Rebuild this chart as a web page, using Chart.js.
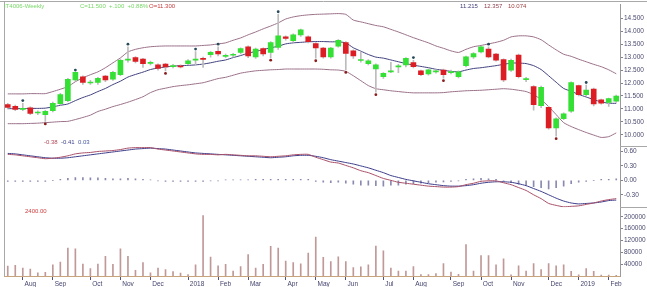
<!DOCTYPE html>
<html lang="en">
<head>
<meta charset="UTF-8">
<title>Weekly chart</title>
<script src="https://cdn.jsdelivr.net/npm/chart.js@4.4.1/dist/chart.umd.min.js"></script>
<style>
  html, body { margin: 0; padding: 0; background: #fff; }
  #wrap { position: relative; width: 647px; height: 287px; font-family: "Liberation Sans", Arial, sans-serif; }
  #wrap span { position: absolute; font-size: 6px; white-space: pre; line-height: 1; }
</style>
</head>
<body>
<div id="wrap">
  <canvas id="chart" width="647" height="287"></canvas>
  <span style="left:4px;top:3px;color:#78d868">IT4006-Weekly</span>
  <span style="left:80px;top:3px;color:#78d868">C=11.500  +.100  +0.88%</span>
  <span style="left:149px;top:3px;color:#c84040">O=11.300</span>
  <span style="left:460px;top:3px;color:#404078">11.215</span>
  <span style="left:484px;top:3px;color:#904050">12.357</span>
  <span style="left:508px;top:3px;color:#a04040">10.074</span>
  <span style="left:44px;top:139px;color:#b04858">-0.38</span>
  <span style="left:61px;top:139px;color:#404090">-0.41</span>
  <span style="left:78px;top:139px;color:#4858a0">0.03</span>
  <span style="left:25px;top:208px;color:#d04040">2400.00</span>
</div>
<script>
// weekly bars, Friday closes
var weeks = ['2017-07-21','2017-07-28','2017-08-04','2017-08-11','2017-08-18','2017-08-25','2017-09-01','2017-09-08','2017-09-15','2017-09-22',
  '2017-09-29','2017-10-06','2017-10-13','2017-10-20','2017-10-27','2017-11-03','2017-11-10','2017-11-17','2017-11-24','2017-12-01',
  '2017-12-08','2017-12-15','2017-12-22','2017-12-29','2018-01-05','2018-01-12','2018-01-19','2018-01-26','2018-02-02','2018-02-09',
  '2018-02-16','2018-02-23','2018-03-02','2018-03-09','2018-03-16','2018-03-23','2018-03-30','2018-04-06','2018-04-13','2018-04-20',
  '2018-04-27','2018-05-04','2018-05-11','2018-05-18','2018-05-25','2018-06-01','2018-06-08','2018-06-15','2018-06-22','2018-06-29',
  '2018-07-06','2018-07-13','2018-07-20','2018-07-27','2018-08-03','2018-08-10','2018-08-17','2018-08-24','2018-08-31','2018-09-07',
  '2018-09-14','2018-09-21','2018-09-28','2018-10-05','2018-10-12','2018-10-19','2018-10-26','2018-11-02','2018-11-09','2018-11-16',
  '2018-11-23','2018-11-30','2018-12-07','2018-12-14','2018-12-21','2018-12-28','2019-01-04','2019-01-11','2019-01-18','2019-01-25',
  '2019-02-01','2019-02-08']

var open = [11.17,11.10,10.98,11.04,10.85,10.78,10.93,11.20,11.32,12.12, 12.24,12.00,12.02,12.27,12.15,12.32,12.88,12.98,12.92,12.76,
  12.70,12.73,12.63,12.66,12.75,12.88,12.95,13.09,13.22,13.03, 13.07,13.18,13.40,13.01,13.33,13.18,13.37,13.78,13.63,13.86,
  13.78,13.52,13.35,13.01,13.42,13.56,13.24,12.87,12.75,12.54, 12.24,12.43,12.62,12.70,12.79,12.47,12.35,12.43,12.50,12.40,
  12.24,12.67,13.01,13.20,13.31,13.12,12.90,12.50,13.08,12.13, 11.86,11.13,11.06,10.27,10.62,10.91,11.90,11.55,11.77,11.35,
  11.25,11.30]
var high = [11.22,11.15,11.22,11.08,10.93,10.95,11.26,11.60,12.18,12.42, 12.28,12.10,12.22,12.30,12.45,12.92,13.40,13.02,12.95,12.85,
  12.74,12.76,12.72,12.70,12.90,13.21,13.00,13.22,13.40,13.12, 13.15,13.36,13.44,13.35,13.36,13.60,14.65,13.82,13.90,14.08,
  13.82,13.56,13.38,13.38,13.68,13.60,13.28,13.20,12.90,12.74, 12.40,12.80,12.72,12.98,12.88,12.50,12.54,12.52,12.54,12.50,
  12.47,13.04,13.17,13.43,13.40,13.15,12.93,12.92,13.12,12.22, 11.90,11.88,11.10,10.66,10.85,12.05,11.92,11.92,11.80,11.38,
  11.42,11.53]
var low = [11.00,10.93,10.93,10.78,10.78,10.52,10.88,11.15,11.28,12.08, 11.95,11.95,11.95,12.05,12.10,12.28,12.80,12.78,12.60,12.70,
  12.50,12.47,12.58,12.58,12.70,12.70,12.60,13.00,13.05,12.98, 13.00,13.12,12.98,12.95,13.05,12.98,13.30,13.65,13.58,13.80,
  13.55,12.96,12.96,12.96,13.38,12.51,12.95,12.80,12.70,11.65, 12.18,12.40,12.40,12.62,12.58,12.28,12.30,12.38,12.19,12.35,
  12.20,12.62,12.95,13.16,12.97,12.84,12.05,12.45,12.20,12.05, 10.95,11.05,10.22,9.95,10.58,10.86,11.50,11.50,11.12,11.18,
  11.10,11.25]
var close = [11.06,10.98,11.02,10.83,10.88,10.91,11.22,11.55,12.14,12.41, 12.02,12.04,12.18,12.12,12.41,12.88,12.92,12.83,12.75,12.80,
  12.56,12.62,12.67,12.62,12.86,12.92,12.91,13.18,13.12,13.07, 13.11,13.33,13.05,13.31,13.12,13.56,13.82,13.72,13.86,14.05,
  13.60,13.35,13.01,13.35,13.65,13.14,13.05,12.90,12.86,12.70, 12.37,12.47,12.66,12.95,12.63,12.32,12.51,12.47,12.32,12.44,
  12.43,13.01,13.14,13.40,13.01,12.88,12.12,12.88,12.24,12.17, 11.16,11.83,10.27,10.62,10.81,12.02,11.55,11.73,11.19,11.22,
  11.40,11.50]

// bollinger bands
var bbUpper = [11.58,11.58,11.58,11.59,11.59,11.59,11.67,11.76,11.86,12.05, 12.20,12.32,12.43,12.59,12.78,12.97,13.20,13.30,13.36,13.40,
  13.42,13.43,13.43,13.43,13.43,13.43,13.45,13.47,13.51,13.55, 13.65,13.74,13.86,13.97,14.09,14.20,14.32,14.47,14.55,14.60,
  14.63,14.65,14.66,14.67,14.68,14.65,14.43,14.36,14.29,14.22, 14.17,14.07,13.97,13.86,13.75,13.65,13.55,13.43,13.34,13.24,
  13.18,13.30,13.40,13.45,13.51,13.57,13.65,13.78,13.82,13.82, 13.78,13.67,13.47,13.28,13.11,13.03,12.92,12.82,12.72,12.63,
  12.51,12.357]
var bbMid = [11.01,11.01,11.01,11.02,11.02,11.03,11.08,11.14,11.19,11.32, 11.44,11.54,11.67,11.79,11.94,12.07,12.23,12.33,12.42,12.52,
  12.58,12.62,12.65,12.67,12.68,12.70,12.73,12.78,12.84,12.89, 12.98,13.06,13.15,13.22,13.29,13.36,13.42,13.51,13.55,13.57,
  13.59,13.60,13.60,13.59,13.59,13.55,13.36,13.23,13.10,13.00, 12.96,12.89,12.82,12.75,12.69,12.64,12.59,12.53,12.49,12.45,
  12.43,12.50,12.56,12.59,12.63,12.67,12.72,12.77,12.77,12.75, 12.67,12.52,12.28,12.03,11.79,11.68,11.56,11.46,11.36,11.27,
  11.22,11.215]
var bbLower = [10.43,10.43,10.43,10.44,10.45,10.47,10.49,10.51,10.52,10.59, 10.67,10.76,10.90,10.99,11.09,11.17,11.26,11.36,11.47,11.63,
  11.74,11.80,11.86,11.90,11.93,11.97,12.01,12.09,12.17,12.22, 12.30,12.38,12.43,12.47,12.49,12.51,12.52,12.54,12.54,12.54,
  12.54,12.54,12.53,12.51,12.50,12.45,12.28,12.09,11.90,11.78, 11.74,11.70,11.67,11.64,11.62,11.62,11.62,11.62,11.63,11.66,
  11.68,11.70,11.71,11.72,11.74,11.76,11.78,11.76,11.72,11.67, 11.55,11.36,11.09,10.78,10.47,10.32,10.20,10.09,9.99,9.90,
  9.93,10.074]

// marker dots [week index, price]
var dotsUp = [[2,11.32],[9,12.50],[16,13.50],[25,13.31],[28,13.50],[36,14.75],[54,12.98],[64,13.50],[77,12.02]]
var dotsDown = [[5,10.42],[21,12.37],[35,12.88],[41,12.86],[45,12.41],[49,11.55],[58,12.09],[73,9.85]]

// MACD panel
var macd = [0.54,0.53,0.51,0.49,0.47,0.45,0.46,0.48,0.51,0.55, 0.57,0.58,0.60,0.61,0.62,0.64,0.67,0.68,0.68,0.68,
  0.65,0.63,0.61,0.59,0.57,0.55,0.54,0.54,0.53,0.54, 0.53,0.52,0.51,0.51,0.50,0.49,0.50,0.51,0.53,0.54,
  0.54,0.48,0.43,0.38,0.36,0.31,0.26,0.20,0.16,0.10, 0.04,0.00,-0.04,-0.06,-0.08,-0.10,-0.12,-0.13,-0.14,-0.14,
  -0.13,-0.09,-0.06,-0.02,-0.01,-0.01,-0.05,-0.09,-0.15,-0.21, -0.30,-0.38,-0.48,-0.52,-0.55,-0.54,-0.53,-0.50,-0.47,-0.43,
  -0.40,-0.38]
var signal = [0.56,0.55,0.53,0.51,0.49,0.47,0.46,0.46,0.47,0.49, 0.51,0.53,0.55,0.57,0.59,0.61,0.63,0.65,0.66,0.67,
  0.66,0.65,0.63,0.61,0.59,0.57,0.56,0.55,0.54,0.53, 0.52,0.51,0.50,0.49,0.48,0.47,0.48,0.49,0.51,0.52,
  0.52,0.50,0.47,0.43,0.40,0.37,0.34,0.30,0.26,0.21, 0.16,0.10,0.06,0.02,-0.01,-0.04,-0.07,-0.09,-0.11,-0.12,
  -0.12,-0.11,-0.09,-0.06,-0.04,-0.03,-0.03,-0.04,-0.07,-0.11, -0.17,-0.23,-0.30,-0.37,-0.43,-0.47,-0.49,-0.48,-0.47,-0.45,
  -0.42,-0.41]
var hist = [-0.02,-0.02,-0.02,-0.02,-0.02,-0.02,0.00,0.02,0.04,0.06, 0.06,0.05,0.05,0.04,0.03,0.03,0.04,0.03,0.02,0.01,
  -0.01,-0.02,-0.02,-0.02,-0.02,-0.02,-0.02,-0.01,-0.01,0.01, 0.01,0.01,0.01,0.02,0.02,0.02,0.02,0.02,0.02,0.02,
  0.02,-0.02,-0.04,-0.05,-0.04,-0.06,-0.08,-0.10,-0.10,-0.11, -0.12,-0.10,-0.10,-0.08,-0.07,-0.06,-0.05,-0.04,-0.03,-0.02,
  -0.01,0.02,0.03,0.04,0.03,0.02,-0.02,-0.05,-0.08,-0.10, -0.13,-0.15,-0.18,-0.15,-0.12,-0.07,-0.04,-0.02,0.00,0.02,
  0.02,0.03]

var volume = [33600,36000,27000,23500,11000,12000,38000,47000,94000,92000, 40000,25000,40000,66000,39000,92000,66000,19000,45000,11000,
  27000,22000,15000,10000,5000,38000,204000,64000,34000,39000, 17000,32000,72000,27000,39000,100000,94000,50000,45000,41000,
  77000,131000,63000,49000,65000,49000,28000,31000,38000,101000, 85000,27000,17000,17000,32000,5000,5000,8000,42000,13000,
  6000,106000,17000,69000,69000,38000,58000,4000,34000,17000, 42000,22000,42000,34000,38000,16000,4000,25000,16000,3000,
  3000,2400]

// axis ticks
var priceTicks = [10, 10.5, 11, 11.5, 12, 12.5, 13, 13.5, 14, 14.5]
var macdTicks = [-0.3, 0, 0.3, 0.6]
var volTicks = [40000, 80000, 120000, 160000, 200000]
var monthIdx = [2,6,11,15,19,24,28,32,37,41,45,50,54,59,63,67,72,76,80]
var monthText = ['Aug','Sep','Oct','Nov','Dec','2018','Feb','Mar','Apr','May','Jun','Jul','Aug','Sep','Oct','Nov','Dec','2019','Feb']

var GREEN = '#33e033', RED = '#dc1e24'
var up = close.map((c, i) => c >= open[i])

Chart.defaults.font.family = '"Liberation Sans", Arial, sans-serif'
Chart.defaults.font.size = 6.5

function yAxisFit(s){ s.width = 27; s.paddingTop = 0; s.paddingBottom = 0 }

var frame = {
  id: 'frame',
  afterDraw(chart){
    var ctx = chart.ctx, a = chart.chartArea, sc = chart.scales
    ctx.save()
    ctx.strokeStyle = '#a8a8a8'
    ctx.lineWidth = 1
    ctx.beginPath()
    ctx.moveTo(0, 1.5); ctx.lineTo(chart.width, 1.5)
    ctx.moveTo(a.left + 0.5, 1.5); ctx.lineTo(a.left + 0.5, a.bottom)
    ;[sc.yP.bottom, sc.yM.bottom].forEach(y => {
      ctx.moveTo(a.right, Math.round(y) + 0.5); ctx.lineTo(chart.width, Math.round(y) + 0.5)
    })
    ctx.stroke()
    ctx.restore()
  }
}

function yAxis(weight, min, max, ticks, fmt){
  return {
    position: 'right', stack: 'panels', stackWeight: weight, min: min, max: max,
    border: { color: '#9a9a9a' },
    grid: { drawOnChartArea: false, tickLength: 3, color: '#808090' },
    ticks: { autoSkip: false, padding: 1, color: '#4a4a70', callback: fmt },
    afterBuildTicks: s => { s.ticks = ticks.map(v => ({value: v})) },
    afterFit: yAxisFit
  }
}

new Chart(document.getElementById('chart'), {
  type: 'bar',
  data: {
    labels: weeks,
    datasets: [
      { type: 'line', data: dotsUp.map(d => ({x: weeks[d[0]], y: d[1]})), yAxisID: 'yP', showLine: false,
        pointRadius: 1.4, pointBackgroundColor: '#264a5a', pointBorderWidth: 0, order: 0 },
      { type: 'line', data: dotsDown.map(d => ({x: weeks[d[0]], y: d[1]})), yAxisID: 'yP', showLine: false,
        pointRadius: 1.4, pointBackgroundColor: '#8a1c1c', pointBorderWidth: 0, order: 0 },
      { data: open.map((o, i) => [o, close[i]]), yAxisID: 'yP', grouped: false, barThickness: 5,
        backgroundColor: up.map(u => u ? GREEN : RED), borderWidth: 0, order: 1 },
      { data: low.map((l, i) => [l, high[i]]), yAxisID: 'yP', grouped: false, barThickness: 1,
        backgroundColor: '#bcbcbc', borderWidth: 0, order: 2 },
      { type: 'line', data: bbUpper, yAxisID: 'yP', borderColor: '#9a7088', borderWidth: 1, pointRadius: 0, tension: 0.2, order: 3 },
      { type: 'line', data: bbMid, yAxisID: 'yP', borderColor: '#40407e', borderWidth: 1, pointRadius: 0, tension: 0.2, order: 3 },
      { type: 'line', data: bbLower, yAxisID: 'yP', borderColor: '#9a7088', borderWidth: 1, pointRadius: 0, tension: 0.2, order: 3 },
      { type: 'line', data: macd, yAxisID: 'yM', borderColor: '#a85068', borderWidth: 1, pointRadius: 0, tension: 0.2, order: 3 },
      { type: 'line', data: signal, yAxisID: 'yM', borderColor: '#3c3c8c', borderWidth: 1, pointRadius: 0, tension: 0.2, order: 3 },
      { data: hist, yAxisID: 'yM', grouped: false, barThickness: 1, backgroundColor: '#8a8ab0', borderWidth: 0, order: 4 },
      { data: volume, yAxisID: 'yV', grouped: false, barThickness: 1, backgroundColor: '#c09898', borderWidth: 0, order: 4 }
    ]
  },
  options: {
    responsive: false,
    animation: false,
    devicePixelRatio: 1,
    layout: { padding: { left: 2, top: 3, right: 0, bottom: 0 } },
    plugins: { legend: { display: false }, tooltip: { enabled: false } },
    scales: {
      x: {
        type: 'category',
        offset: true,
        border: { color: '#c8a47c' },
        grid: { offset: false, drawOnChartArea: false, tickLength: 4, color: '#505078' },
        ticks: { autoSkip: false, maxRotation: 0, align: 'start', padding: 0, color: '#44446e',
          callback: v => ' ' + monthText[monthIdx.indexOf(v)] },
        afterBuildTicks: s => { s.ticks = s.ticks.filter(t => monthIdx.includes(t.value)) },
        afterFit: s => { s.height = 11; s.paddingLeft = 0; s.paddingRight = 0 }
      },
      yP: yAxis(143, 9.55, 15.05, priceTicks, v => v.toFixed(3)),
      yM: yAxis(61, -0.559, 0.704, macdTicks, v => v.toFixed(2)),
      yV: yAxis(69, 0, 232000, volTicks, v => String(v))
    }
  },
  plugins: [frame]
})
</script>
</body>
</html>
